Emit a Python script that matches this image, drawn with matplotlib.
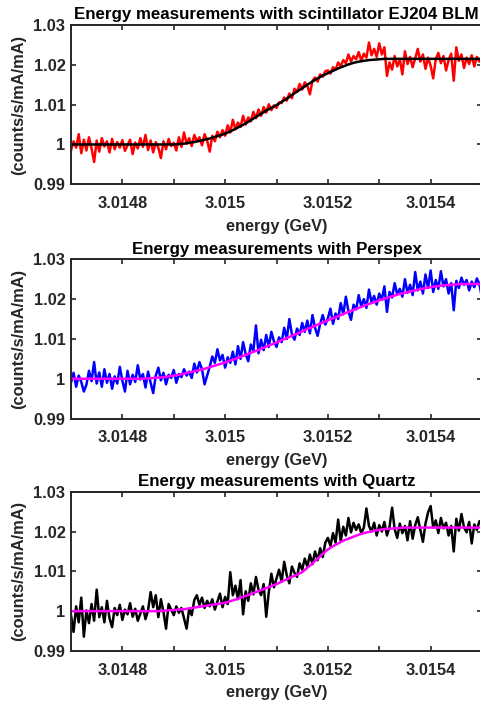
import numpy as np
import matplotlib
matplotlib.use("Agg")
import matplotlib.pyplot as plt

# measured signal, one value every 5e-6 GeV from 3.0147 to 3.0155
ej204 = [
    0.9985, 1.0008, 0.9992, 1.0026, 0.9978, 1.0012, 0.9985, 1.0018, 0.9990, 0.9956,
    1.0010, 0.9982, 1.0016, 0.9995, 1.0008, 0.9980, 1.0014, 0.9988, 1.0006, 0.9992,
    1.0011, 0.9984, 0.9998, 1.0012, 0.9976, 1.0005, 0.9990, 1.0016, 0.9994, 1.0024,
    0.9986, 1.0010, 0.9980, 1.0006, 0.9992, 0.9966, 1.0008, 0.9988, 1.0014, 0.9996,
    1.0004, 0.9985, 1.0018, 0.9994, 1.0030, 1.0002, 1.0016, 0.9996, 1.0024, 1.0008,
    1.0018, 0.9998, 1.0026, 1.0010, 0.9982, 1.0022, 1.0008, 1.0032, 1.0018, 1.0036,
    1.0022, 1.0048, 1.0030, 1.0062, 1.0038, 1.0055, 1.0044, 1.0072, 1.0050, 1.0068,
    1.0058, 1.0082, 1.0066, 1.0088, 1.0072, 1.0094, 1.0080, 1.0101, 1.0086, 1.0098,
    1.0092, 1.0106, 1.0104, 1.0118, 1.0110, 1.0128, 1.0116, 1.0140, 1.0132, 1.0152,
    1.0138, 1.0156, 1.0148, 1.0126, 1.0160, 1.0168, 1.0158, 1.0176, 1.0170, 1.0184,
    1.0186, 1.0178, 1.0194, 1.0188, 1.0206, 1.0196, 1.0212, 1.0204, 1.0226, 1.0208,
    1.0222, 1.0214, 1.0232, 1.0210, 1.0228, 1.0218, 1.0256, 1.0224, 1.0240, 1.0220,
    1.0254, 1.0226, 1.0244, 1.0172, 1.0206, 1.0188, 1.0222, 1.0196, 1.0214, 1.0176,
    1.0234, 1.0202, 1.0220, 1.0194, 1.0216, 1.0240, 1.0208, 1.0226, 1.0190, 1.0218,
    1.0198, 1.0166, 1.0214, 1.0230, 1.0204, 1.0222, 1.0186, 1.0212, 1.0228, 1.0160,
    1.0244, 1.0210, 1.0226, 1.0192, 1.0218, 1.0202, 1.0224, 1.0196, 1.0220, 1.0208,
    1.0216,
]
perspex = [
    0.9990, 1.0015, 0.9980, 1.0008, 0.9992, 0.9968, 0.9985, 1.0020, 0.9994, 1.0042,
    0.9988, 1.0016, 0.9980, 1.0024, 0.9990, 1.0012, 0.9975, 1.0006, 0.9988, 1.0030,
    0.9995, 0.9968, 1.0020, 0.9986, 1.0010, 0.9992, 1.0034, 0.9998, 1.0012, 0.9978,
    1.0018, 0.9990, 0.9964, 1.0008, 1.0028, 0.9996, 1.0015, 0.9986, 1.0010, 1.0002,
    1.0022, 0.9990, 1.0012, 1.0004, 1.0024, 1.0008, 1.0018, 1.0002, 1.0038, 1.0016,
    1.0042, 1.0024, 0.9986, 1.0008, 1.0030, 1.0056, 1.0040, 1.0074, 1.0046, 1.0060,
    1.0028, 1.0054, 1.0040, 1.0068, 1.0036, 1.0082, 1.0050, 1.0092, 1.0062, 1.0044,
    1.0086, 1.0070, 1.0134, 1.0064, 1.0098, 1.0072, 1.0110, 1.0080, 1.0118, 1.0094,
    1.0080, 1.0104, 1.0092, 1.0128, 1.0100, 1.0150, 1.0112, 1.0098, 1.0126, 1.0110,
    1.0140, 1.0118, 1.0146, 1.0114, 1.0160, 1.0128, 1.0108, 1.0138, 1.0160, 1.0136,
    1.0152, 1.0176, 1.0138, 1.0164, 1.0150, 1.0190, 1.0162, 1.0206, 1.0170, 1.0148,
    1.0186, 1.0174, 1.0210, 1.0182, 1.0200, 1.0178, 1.0224, 1.0192, 1.0208, 1.0186,
    1.0214, 1.0198, 1.0232, 1.0168, 1.0218, 1.0204, 1.0240, 1.0212, 1.0226, 1.0206,
    1.0250, 1.0216, 1.0236, 1.0210, 1.0268, 1.0222, 1.0244, 1.0214, 1.0262, 1.0228,
    1.0272, 1.0218, 1.0248, 1.0226, 1.0270, 1.0232, 1.0250, 1.0214, 1.0240, 1.0172,
    1.0246, 1.0228, 1.0254, 1.0236, 1.0248, 1.0222, 1.0244, 1.0230, 1.0252, 1.0238,
    1.0202,
]
quartz = [
    0.9990, 0.9948, 1.0012, 0.9972, 1.0034, 0.9936, 1.0002, 0.9970, 1.0018, 0.9976,
    1.0054, 0.9985, 1.0010, 0.9972, 1.0026, 0.9982, 0.9960, 1.0008, 0.9990, 1.0016,
    0.9978, 1.0004, 0.9992, 1.0020, 0.9986, 1.0006, 0.9976, 0.9994, 1.0012, 0.9980,
    1.0002, 1.0048, 1.0010, 1.0040, 0.9985, 1.0030, 0.9998, 0.9956, 1.0018, 1.0004,
    0.9990, 1.0012, 0.9996, 1.0008, 0.9982, 0.9956, 1.0006, 0.9990, 1.0028, 1.0040,
    1.0016, 1.0034, 1.0008, 1.0026, 1.0012, 1.0030, 1.0004, 1.0024, 1.0044, 1.0010,
    1.0036, 1.0018, 1.0098, 1.0040, 1.0064, 1.0030, 1.0078, 0.9992, 1.0050, 1.0026,
    1.0070, 1.0042, 1.0086, 1.0054, 1.0040, 1.0068, 0.9986, 1.0048, 1.0094, 1.0060,
    1.0082, 1.0104, 1.0074, 1.0124, 1.0090, 1.0070, 1.0112, 1.0096, 1.0086, 1.0120,
    1.0104, 1.0132, 1.0112, 1.0142, 1.0118, 1.0150, 1.0128, 1.0158, 1.0136, 1.0172,
    1.0184, 1.0164, 1.0196, 1.0172, 1.0230, 1.0176, 1.0212, 1.0190, 1.0234, 1.0198,
    1.0222, 1.0204, 1.0218, 1.0196, 1.0210, 1.0258, 1.0214, 1.0200, 1.0222, 1.0190,
    1.0216, 1.0200, 1.0224, 1.0190, 1.0212, 1.0260, 1.0206, 1.0184, 1.0220, 1.0196,
    1.0214, 1.0178, 1.0226, 1.0182, 1.0216, 1.0236, 1.0204, 1.0174, 1.0220, 1.0248,
    1.0264, 1.0210, 1.0228, 1.0196, 1.0234, 1.0208, 1.0222, 1.0190, 1.0214, 1.0150,
    1.0232, 1.0202, 1.0244, 1.0210, 1.0198, 1.0224, 1.0170, 1.0218, 1.0204, 1.0226,
    1.0214,
]

# fitted curves, one value every 1e-5 GeV from 3.0147 to 3.0155
fit_ej204 = [1.0000] * 21 + [
    1.0001, 1.0002, 1.0004, 1.0006, 1.0009, 1.0012, 1.0015, 1.0019, 1.0023, 1.0027,
    1.0033, 1.0039, 1.0046, 1.0053, 1.0061, 1.0069, 1.0077, 1.0085, 1.0092, 1.0099,
    1.0107, 1.0115, 1.0124, 1.0133, 1.0141, 1.0150, 1.0158, 1.0166, 1.0173, 1.0179,
    1.0185, 1.0191, 1.0196, 1.0201, 1.0205, 1.0208, 1.0210, 1.0212, 1.0213, 1.0214,
] + [1.0215] * 20
fit_perspex = [1.0000] * 15 + [
    1.0001, 1.0002, 1.0003, 1.0004, 1.0006, 1.0008, 1.0010, 1.0013, 1.0016, 1.0019,
    1.0022, 1.0025, 1.0029, 1.0033, 1.0037, 1.0041, 1.0046, 1.0050, 1.0055, 1.0060,
    1.0065, 1.0070, 1.0075, 1.0081, 1.0086, 1.0091, 1.0097, 1.0102, 1.0108, 1.0113,
    1.0119, 1.0125, 1.0130, 1.0136, 1.0141, 1.0147, 1.0152, 1.0157, 1.0163, 1.0168,
    1.0173, 1.0178, 1.0183, 1.0188, 1.0192, 1.0197, 1.0201, 1.0205, 1.0209, 1.0213,
    1.0216, 1.0219, 1.0222, 1.0225, 1.0228, 1.0230, 1.0232, 1.0234, 1.0235, 1.0236,
    1.0237,
] + [1.0238] * 5
fit_quartz = [1.0000] * 18 + [
    1.0001, 1.0002, 1.0003, 1.0004, 1.0005, 1.0007, 1.0009, 1.0011, 1.0013, 1.0015,
    1.0017, 1.0019, 1.0021, 1.0025, 1.0029, 1.0034, 1.0038, 1.0043, 1.0048, 1.0053,
    1.0058, 1.0063, 1.0068, 1.0074, 1.0080, 1.0086, 1.0092, 1.0098, 1.0109, 1.0120,
    1.0132, 1.0144, 1.0155, 1.0163, 1.0170, 1.0177, 1.0182, 1.0187, 1.0192, 1.0196,
    1.0199, 1.0202, 1.0204, 1.0206, 1.0207, 1.0208, 1.0209,
] + [1.0210] * 16

titles = [
    "Energy measurements with scintillator EJ204 BLM",
    "Energy measurements with Perspex",
    "Energy measurements with Quartz",
]
data_colors = ["#ff0000", "#0000ff", "#000000"]
fit_colors = ["#000000", "#ff00ff", "#ff00ff"]

e_min, e_max = 3.0147, 3.0155
x_ticks = [3.0147, 3.0148, 3.0149, 3.015, 3.0151, 3.0152, 3.0153, 3.0154, 3.0155]
x_labels = ["", "3.0148", "", "3.015", "", "3.0152", "", "3.0154", ""]
y_ticks = [0.99, 1.0, 1.01, 1.02, 1.03]
y_labels = ["0.99", "1", "1.01", "1.02", "1.03"]

plt.rcParams["font.family"] = ["Liberation Sans", "DejaVu Sans"]
plt.rcParams["font.weight"] = "bold"
ink = "#262626"

fig = plt.figure(figsize=(4.81, 7.04), dpi=100)
W, H = 481.0, 704.0
tops = [25, 259.3, 491.7]
series = [ej204, perspex, quartz]
fits = [fit_ej204, fit_perspex, fit_quartz]

for k in range(3):
    left, top, height = 71, tops[k], 159.3
    ax = fig.add_axes([left / W, 1 - (top + height) / H, 411 / W, height / H])
    y = series[k]
    x = np.linspace(e_min, e_max, len(y))
    xf = np.linspace(e_min, e_max, len(fits[k]))
    ax.plot(x, y, color=data_colors[k], lw=1.8)
    ax.plot(xf, fits[k], color=fit_colors[k], lw=1.8)
    ax.set_xlim(e_min, e_max)
    ax.set_ylim(0.99, 1.03)
    ax.set_xticks(x_ticks)
    ax.set_xticklabels(x_labels)
    ax.set_yticks(y_ticks)
    ax.set_yticklabels(y_labels)
    ax.tick_params(direction="in", length=3.5, width=1.2, colors=ink,
                   labelsize=11.8, top=True, right=True)
    ax.tick_params(axis="x", pad=8.5)
    ax.tick_params(axis="y", pad=4)
    for s in ax.spines.values():
        s.set_linewidth(1.4)
        s.set_color(ink)
    ax.set_title(titles[k], fontsize=12.2, fontweight="bold", pad=4)
    ax.set_xlabel("energy (GeV)", fontsize=11.8, fontweight="bold", color=ink)
    ax.set_ylabel("(counts/s/mA/mA)", fontsize=11.8, fontweight="bold", color=ink)
    ax.xaxis.set_label_coords(0.5, -0.262)
    ax.xaxis.label.set_va("center")
    ax.yaxis.set_label_coords(-0.127, 0.5)
    ax.yaxis.label.set_va("center")

fig.savefig("out.png", dpi=100)
